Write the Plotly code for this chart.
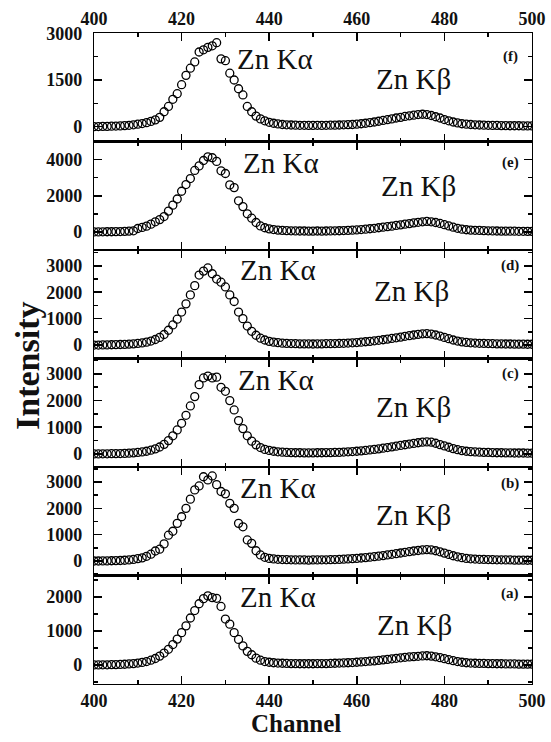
import plotly.graph_objects as go
from plotly.subplots import make_subplots

channel = list(range(400, 501))

# intensities, channel 400..500
panel_f = [0, 5, 10, 10, 15, 20, 25, 35, 45, 60,
           80, 100, 130, 170, 220, 300, 480, 650, 880, 1060,
           1350, 1650, 1880, 2080, 2400, 2470, 2550, 2600, 2700, 2180,
           2120, 1720, 1500, 1220, 1020, 650, 480, 340, 250, 190,
           140, 110, 90, 70, 60, 55,
           50, 45, 45, 40, 40, 45, 40, 45, 50, 50, 55, 60, 65,
           70, 80, 95, 110, 130, 150, 175, 200, 225, 250, 280, 300, 330, 350, 370, 390, 400, 390, 360, 320, 280, 230, 190, 150, 120, 95, 80,
           70, 60, 55, 50, 45, 40, 40, 35, 35, 30, 30, 30, 25, 25, 25]

panel_e = [0, 0, 5, 10, 10, 15, 20, 30, 45, 60,
           190, 250, 320, 430, 560, 680, 850, 1150, 1480, 1820,
           2250, 2620, 2950, 3400, 3650, 3950, 4150, 4100, 3900, 3380,
           3230, 2600, 2450, 1720, 1400, 1000, 760, 520, 330, 230,
           170, 130, 100, 80, 70, 60,
           55, 50, 50, 45, 45, 50, 45, 50, 55, 60, 65, 75, 85,
           95, 110, 130, 150, 175, 200, 230, 260, 290, 320, 360, 390, 430, 460, 500, 530, 560, 580, 560, 520, 470, 400, 330, 260, 200, 150, 120,
           100, 90, 80, 70, 60, 55, 50, 45, 45, 40, 40, 35, 35, 30, 30]

panel_d = [0, 0, 5, 5, 10, 15, 20, 25, 35, 45,
           60, 80, 110, 150, 210, 290, 400, 560, 760, 980,
           1250, 1560, 1900, 2250, 2650, 2800, 2920, 2700, 2500, 2380,
           2200, 1900, 1650, 1250, 1000, 720, 520, 370, 260, 190,
           140, 110, 90, 70, 60, 55,
           50, 45, 45, 45, 40, 45, 45, 50, 50, 55, 60, 65, 75,
           85, 95, 110, 125, 140, 160, 180, 200, 225, 250, 275, 300, 330, 355, 380, 405, 425, 430, 415, 380, 340, 290, 240, 190, 150, 120, 100,
           85, 75, 65, 60, 55, 50, 45, 45, 40, 40, 35, 35, 35, 30, 30]

panel_c = [0, 0, 5, 5, 10, 10, 15, 20, 30, 40,
           55, 75, 100, 140, 190, 260, 360, 500, 680, 900,
           1150, 1450, 1800, 2150, 2600, 2850, 2920, 2850, 2880, 2500,
           2350, 2000, 1650, 1250, 950, 680, 480, 340, 240, 170,
           130, 100, 80, 65, 55, 50,
           45, 45, 40, 40, 40, 45, 45, 50, 50, 55, 60, 70, 80,
           90, 100, 115, 130, 150, 170, 190, 215, 240, 265, 290, 320, 345, 370, 395, 420, 440, 450, 440, 400, 350, 300, 250, 200, 160, 125, 100,
           85, 75, 65, 60, 55, 50, 45, 45, 40, 40, 35, 35, 35, 30, 30]

panel_b = [0, 0, 5, 5, 10, 15, 20, 30, 40, 60,
           90, 120, 180, 260, 380, 450, 650, 980, 1130, 1430,
           1680, 2000, 2350, 2700, 2850, 3200, 3080, 3230, 2900, 2640,
           2550, 2190, 2000, 1430, 1300, 800, 670, 390, 230, 140,
           100, 80, 65, 55, 50, 45,
           40, 40, 40, 35, 40, 40, 45, 45, 50, 55, 60, 70, 80,
           90, 100, 115, 130, 145, 165, 185, 205, 230, 255, 280, 305, 330, 355, 380, 400, 420, 430, 420, 390, 350, 300, 250, 200, 160, 125, 100,
           85, 75, 65, 60, 55, 50, 45, 45, 40, 40, 35, 35, 35, 30, 30]

panel_a = [0, 0, 5, 5, 10, 10, 15, 20, 30, 40,
           55, 75, 100, 140, 190, 260, 350, 460, 600, 760,
           950, 1150, 1380, 1600, 1800, 1950, 2030, 1980, 1960, 1720,
           1350, 1200, 950, 750, 560, 400, 300, 200, 140, 100,
           80, 65, 55, 50, 45, 40,
           40, 35, 35, 35, 35, 40, 40, 40, 45, 50, 55, 60, 65,
           70, 80, 90, 100, 110, 120, 135, 150, 165, 180, 195, 210, 225, 235, 245, 255, 265, 270, 260, 240, 215, 185, 155, 125, 100, 80, 65,
           55, 50, 45, 45, 40, 40, 35, 35, 30, 30, 30, 25, 25, 25, 25]

panels = [panel_f, panel_e, panel_d, panel_c, panel_b, panel_a]
panel_names = ["(f)", "(e)", "(d)", "(c)", "(b)", "(a)"]
y_ranges = [[-476, 3011], [-1000, 5000], [-510, 3600], [-490, 3580], [-550, 3570], [-560, 2630]]
y_dticks = [1500, 2000, 1000, 1000, 1000, 1000]

W, H = 551, 742
L, R, T, B = 94, 19, 33, 58
PW, PH = W - L - R, H - T - B


def px(x):
    return (x - L) / PW


def py(y):
    return (H - B - y) / PH


SERIF = "Liberation Serif, Times New Roman, serif"
INK = "#111111"

fig = make_subplots(rows=6, cols=1, shared_xaxes=True, vertical_spacing=0)

for i, vals in enumerate(panels):
    fig.add_trace(go.Scatter(
        x=channel, y=vals, mode="markers", showlegend=False, hoverinfo="skip",
        marker=dict(symbol="circle-open", size=8, color="black", line=dict(width=1.3, color="black")),
    ), row=i + 1, col=1)
    fig.update_yaxes(
        range=y_ranges[i], dtick=y_dticks[i], tick0=0, automargin=False,
        showline=True, linewidth=1.2, linecolor="black", mirror="ticks",
        ticks="inside", ticklen=8, tickwidth=1.6, tickcolor="black",
        minor=dict(ticks="inside", ticklen=4, tickwidth=1.6, tickcolor="black", dtick=y_dticks[i] / 2, tick0=0),
        showgrid=False, zeroline=False, ticklabelstandoff=7,
        tickfont=dict(family=SERIF, size=18, color=INK, weight="bold"),
        row=i + 1, col=1)
    fig.update_xaxes(
        range=[400, 500], dtick=20, tick0=400, automargin=False,
        showline=True, linewidth=1.2, linecolor="black", mirror="ticks",
        ticks="inside", ticklen=8, tickwidth=1.6, tickcolor="black",
        minor=dict(ticks="inside", ticklen=4, tickwidth=1.6, tickcolor="black", dtick=10, tick0=400),
        showgrid=False, zeroline=False,
        tickfont=dict(family=SERIF, size=18, color=INK, weight="bold"),
        row=i + 1, col=1)

fig.update_xaxes(showticklabels=True, side="top", row=1, col=1)
fig.update_xaxes(showticklabels=True, row=6, col=1)

ka_pos = [(275, 59), (281, 163), (278, 270), (276, 380), (278, 488), (278, 597)]
kb_pos = [(413, 79), (418, 186), (411, 291), (413, 407), (413, 515), (414, 625)]
lab_pos = [(510, 57), (510, 163), (510, 265), (510, 373), (510, 483), (510, 593)]

anns = []
for i in range(6):
    anns.append(dict(x=px(ka_pos[i][0]), y=py(ka_pos[i][1]), xref="paper", yref="paper",
                     text="Zn K\u03b1", showarrow=False, xanchor="center", yanchor="middle",
                     font=dict(family=SERIF, size=29, color=INK)))
    anns.append(dict(x=px(kb_pos[i][0]), y=py(kb_pos[i][1]), xref="paper", yref="paper",
                     text="Zn K\u03b2", showarrow=False, xanchor="center", yanchor="middle",
                     font=dict(family=SERIF, size=29, color=INK)))
    anns.append(dict(x=px(lab_pos[i][0]), y=py(lab_pos[i][1]), xref="paper", yref="paper",
                     text=panel_names[i], showarrow=False, xanchor="center", yanchor="middle",
                     font=dict(family=SERIF, size=15, color=INK, weight="bold")))

anns.append(dict(x=px(27), y=py(366), xref="paper", yref="paper", text="Intensity",
                 textangle=-90, showarrow=False, xanchor="center", yanchor="middle",
                 font=dict(family=SERIF, size=34, color=INK, weight="bold")))
anns.append(dict(x=px(296), y=py(723), xref="paper", yref="paper", text="Channel",
                 showarrow=False, xanchor="center", yanchor="middle",
                 font=dict(family=SERIF, size=25, color=INK, weight="bold")))

fig.update_layout(
    width=W, height=H,
    margin=dict(l=L, r=R, t=T, b=B, autoexpand=False),
    paper_bgcolor="white", plot_bgcolor="white",
    annotations=anns, hovermode=False,
)

fig.write_html("out.html", config={"displayModeBar": False, "staticPlot": True},
               post_script="document.body.style.margin='0px';document.body.style.padding='0px';")
